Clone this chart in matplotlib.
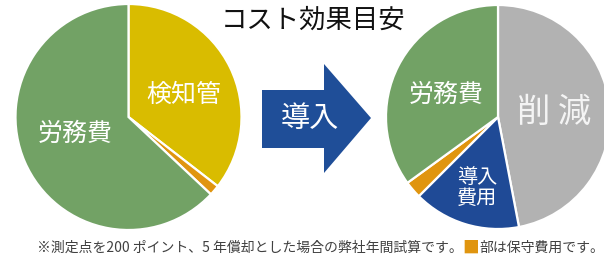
import matplotlib
matplotlib.use("Agg")
import matplotlib.pyplot as plt
from matplotlib.patches import Polygon

plt.rcParams['font.family'] = ['Noto Sans CJK JP', 'DejaVu Sans']

# data
title = "コスト効果目安"
before_labels = ["検知管", "", "労務費"]
before_values = [35.5, 1.5, 63.0]
before_colors = ["#d9bc00", "#e0950f", "#72a265"]

after_labels = ["削 減", "導入\n費用", "", "労務費"]
after_values = [47.0, 15.5, 2.5, 35.0]
after_colors = ["#b2b2b2", "#1f4a96", "#e0950f", "#72a265"]

arrow_text = "導入"
note_a = "※測定点を200 ポイント、5 年償却とした場合の弊社年間試算です。"
note_b = "■"
note_c = "部は保守費用です。"

W, H = 604, 271
fig = plt.figure(figsize=(W / 100, H / 100), dpi=100)
ax = fig.add_axes([0, 0, 1, 1])

wp = dict(edgecolor="white", linewidth=1.6)

# before pie
ax.pie(before_values, colors=before_colors, startangle=90, counterclock=False,
       center=(128.5, H - 117), radius=113, wedgeprops=wp)
# after pie
ax.pie(after_values, colors=after_colors, startangle=90, counterclock=False,
       center=(498, H - 117), radius=112, wedgeprops=wp)

ax.set_xlim(0, W)
ax.set_ylim(0, H)
ax.set_aspect("equal")
ax.axis("off")

# slice labels
lab = dict(color="white", ha="center", va="center")
ax.text(183.5, H - 95, before_labels[0], fontsize=18, **lab)
ax.text(75.5, H - 134, before_labels[2], fontsize=18, **lab)
ax.text(446.5, H - 95, after_labels[3], fontsize=18, **lab)
ax.text(554, H - 112, after_labels[0], fontsize=24, color="#f4f4f4",
        ha="center", va="center")
ax.text(477, H - 188, after_labels[1], fontsize=14.5, linespacing=1.05, **lab)

# arrow
arrow = Polygon([(262, H - 90), (324, H - 90), (324, H - 64), (371, H - 118),
                 (324, H - 173), (324, H - 148), (262, H - 148)],
                closed=True, facecolor="#1f4e98", edgecolor="none")
ax.add_patch(arrow)
ax.text(310, H - 119, arrow_text, fontsize=21, **lab)

# title
ax.text(313.5, H - 20, title, fontsize=19, color="#111111", ha="center", va="center")

# footnote with orange square
fig.canvas.draw()
r = fig.canvas.get_renderer()
inv = ax.transData.inverted()
x = 37
for s, c, fs in [(note_a, "#404040", 10), (note_b, "#e0950f", 12), (note_c, "#404040", 10)]:
    t = ax.text(x, H - 248, s, fontsize=fs, color=c, ha="left", va="center")
    bb = t.get_window_extent(r)
    x = inv.transform((bb.x1, bb.y0))[0]

fig.savefig("out.png", dpi=100)
